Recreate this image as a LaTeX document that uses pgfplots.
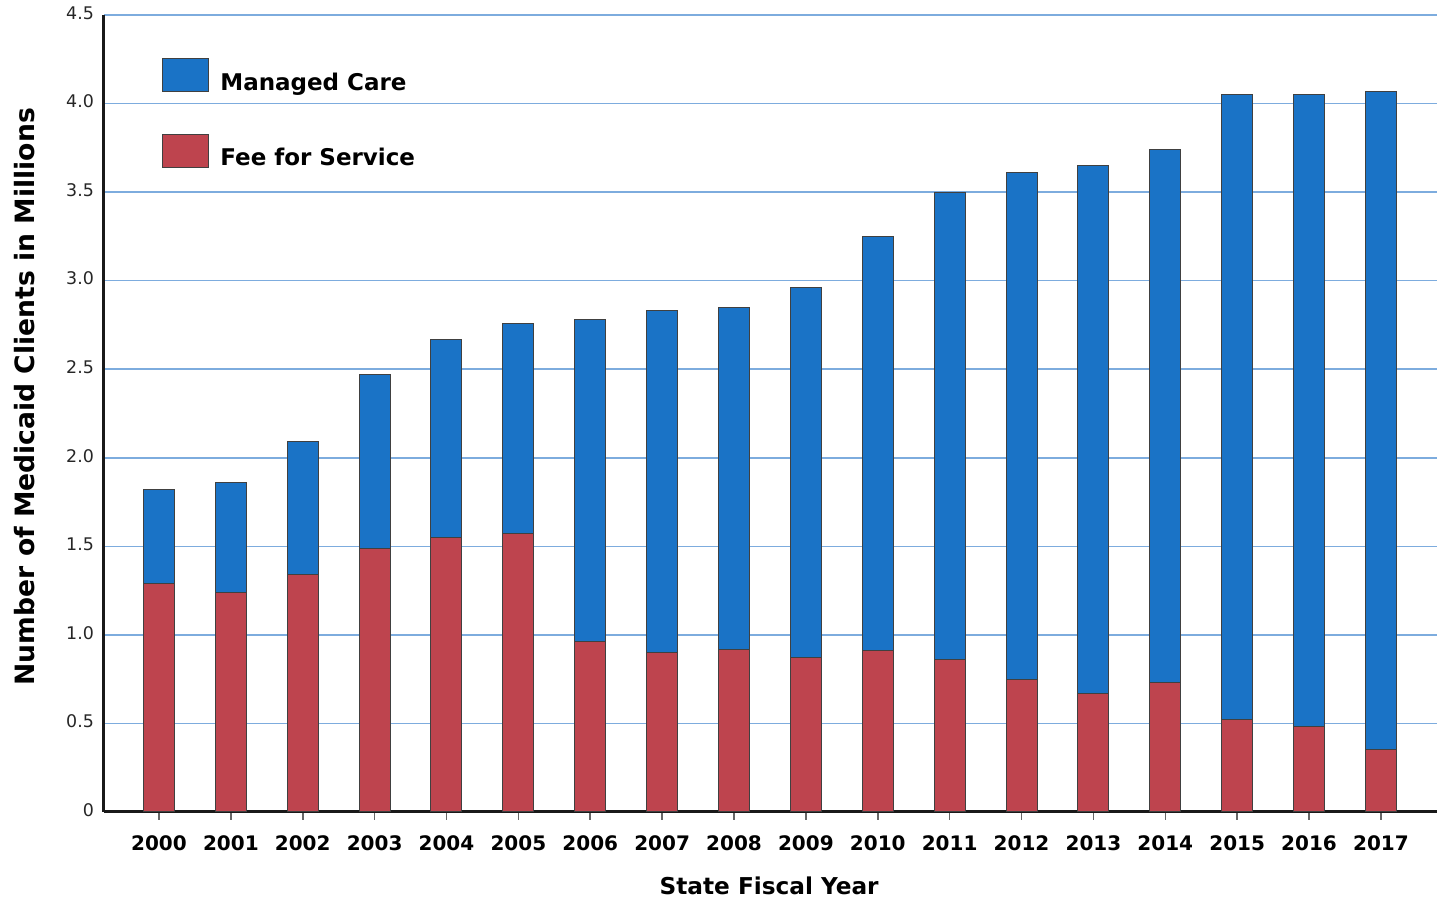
\documentclass[border=0pt]{standalone}
\usepackage{pgfplots}
\pgfplotsset{compat=1.18}
\usepackage{fontspec}
\setmainfont{DejaVu Sans}
\definecolor{mcblue}{RGB}{26,115,198}
\definecolor{ffsred}{RGB}{190,68,78}
\definecolor{gridblue}{RGB}{125,172,222}
\begin{document}
\begin{tikzpicture}
\begin{axis}[
  scale only axis, width=666.5pt, height=398.5pt,
  ybar stacked, bar width=15.5pt,
  xmin=-0.765, xmax=17.78, ymin=0, ymax=4.5,
  axis x line*=bottom, axis y line*=left,
  axis line style={line width=1.5pt, black!90, -},
  xtick={0,1,2,3,4,5,6,7,8,9,10,11,12,13,14,15,16,17},
  xticklabels={2000,2001,2002,2003,2004,2005,2006,2007,2008,2009,2010,2011,2012,2013,2014,2015,2016,2017},
  ytick={0,0.5,1,1.5,2,2.5,3,3.5,4,4.5},
  yticklabels={0,0.5,1.0,1.5,2.0,2.5,3.0,3.5,4.0,4.5},
  ymajorgrids, grid style={gridblue, line width=0.8pt},
  tick align=outside, major tick length=4pt,
  xtick style={black!60, line width=0.8pt},
  ytick style={draw=none},
  xticklabel style={font=\bfseries\fontsize{10}{12}\selectfont, yshift=-4.5pt},
  yticklabel style={font=\fontsize{8.7}{10}\selectfont, text=black!85, xshift=2.5pt, yshift=1pt},
  xlabel={State Fiscal Year},
  ylabel={Number of Medicaid Clients in Millions},
  xlabel style={font=\bfseries\fontsize{11.6}{13}\selectfont, at={(axis description cs:0.499,-0.093)}, anchor=center},
  ylabel style={font=\bfseries\fontsize{13.3}{15}\selectfont, at={(axis description cs:-0.0593,0.521)}, anchor=center, rotate=0},
  legend style={at={(rel axis cs:0.0435,0.946)}, anchor=north west, draw=none, fill=none,
    font=\bfseries\fontsize{11.5}{13}\selectfont, row sep=18.5pt, inner sep=0pt,
    /tikz/every odd column/.append style={column sep=3.5pt}},
  legend cell align=left,
  reverse legend,
  clip=false,
]
\addplot+[fill=ffsred, draw=black!75, line width=0.5pt,
  legend image code/.code={\draw[fill=ffsred, draw=black!75, line width=0.5pt] (0pt,-4.5pt) rectangle (23pt,12pt);}]
  coordinates {(0,1.29) (1,1.24) (2,1.34) (3,1.49) (4,1.55) (5,1.57) (6,0.96) (7,0.90) (8,0.92)
   (9,0.87) (10,0.91) (11,0.86) (12,0.75) (13,0.67) (14,0.73) (15,0.52) (16,0.48) (17,0.35)};
\addlegendentry{Fee for Service}
\addplot+[fill=mcblue, draw=black!75, line width=0.5pt,
  legend image code/.code={\draw[fill=mcblue, draw=black!75, line width=0.5pt] (0pt,-4.5pt) rectangle (23pt,12pt);}]
  coordinates {(0,0.53) (1,0.62) (2,0.75) (3,0.98) (4,1.12) (5,1.19) (6,1.82) (7,1.93) (8,1.93)
   (9,2.09) (10,2.34) (11,2.64) (12,2.86) (13,2.98) (14,3.01) (15,3.53) (16,3.57) (17,3.72)};
\addlegendentry{Managed Care}
\coordinate (bbsw) at (rel axis cs:-0.078,-0.109);
\coordinate (bbne) at (rel axis cs:1.0015,1.0188);
\end{axis}
\pgfresetboundingbox
\useasboundingbox (bbsw) rectangle (bbne);
\end{tikzpicture}
\end{document}
